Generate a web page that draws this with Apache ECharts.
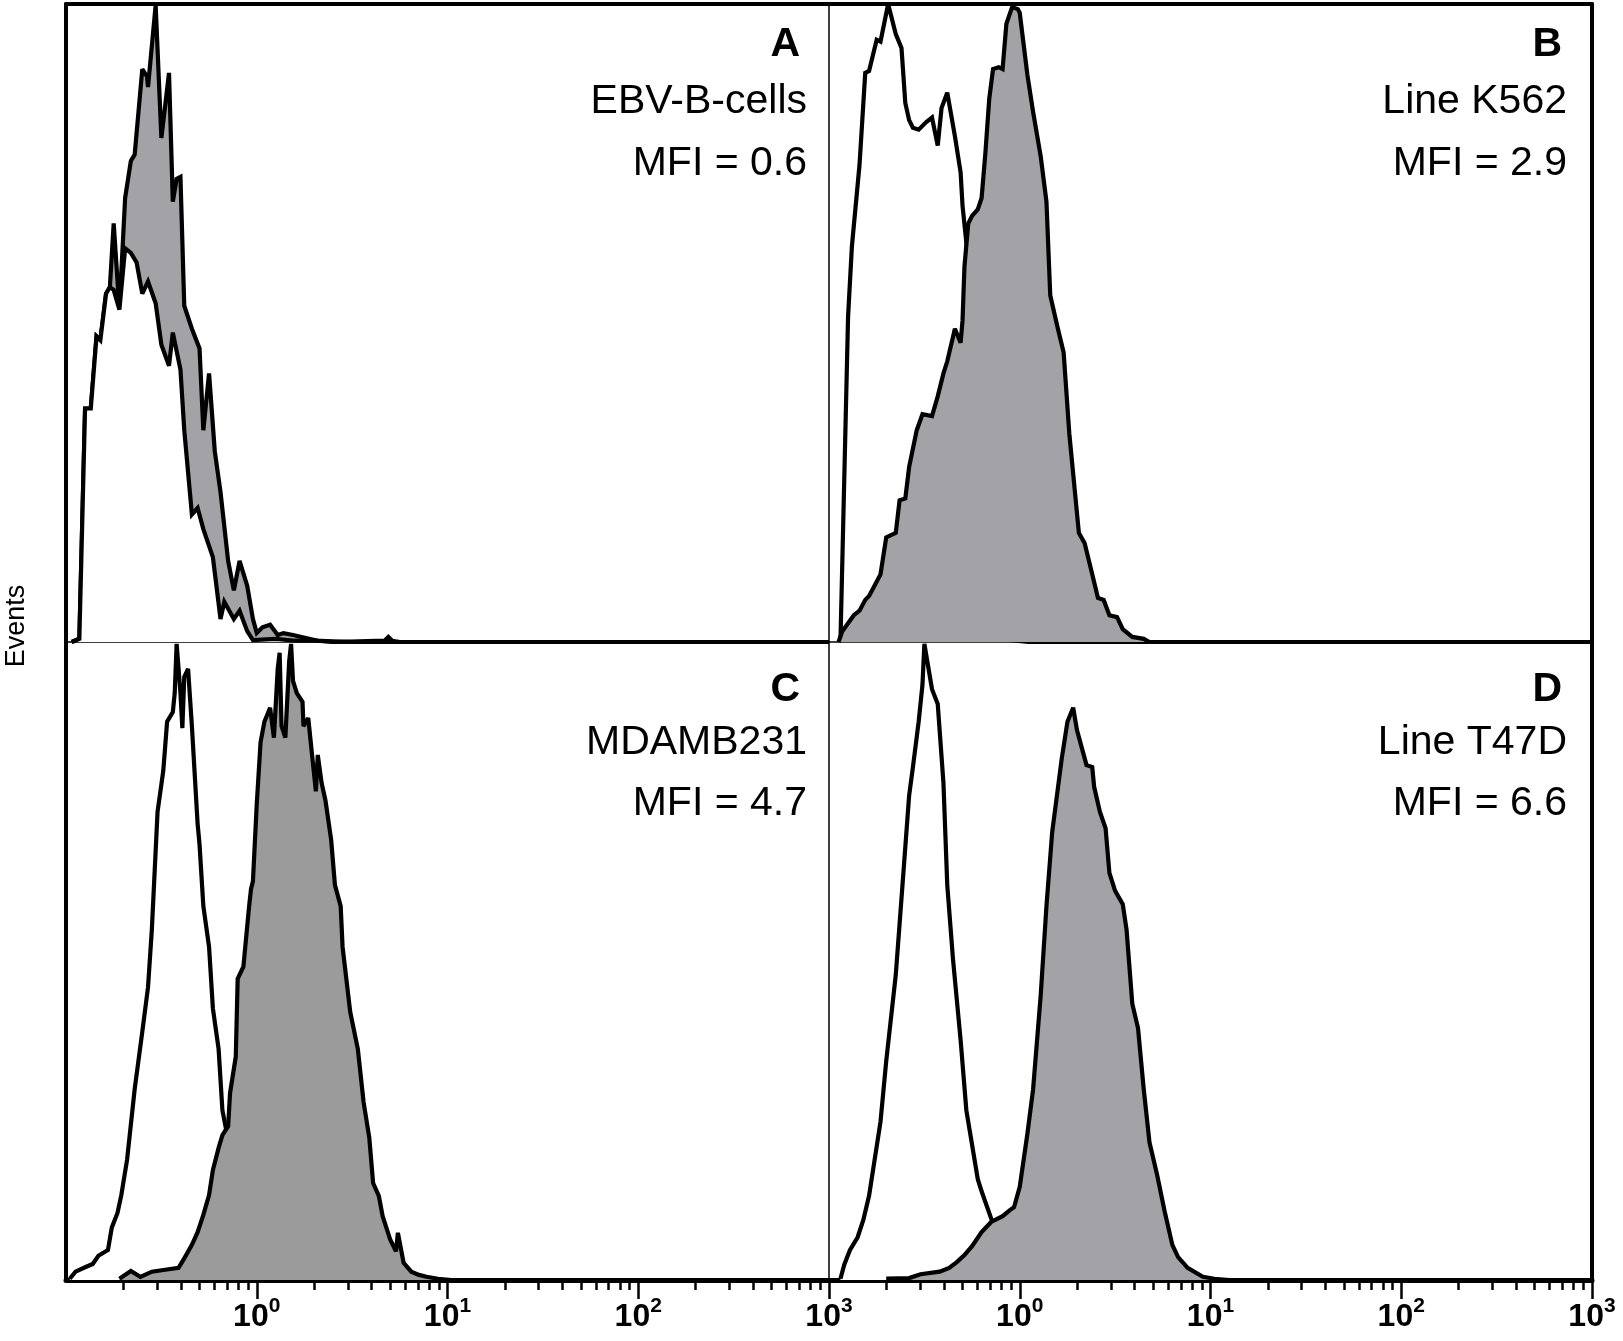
<!DOCTYPE html>
<html>
<head>
<meta charset="utf-8">
<title>Events histograms</title>
<script src="https://cdn.jsdelivr.net/npm/echarts@6.0.0/dist/echarts.min.js"></script>
<style>
  html, body { margin: 0; padding: 0; background: #fff; }
  #chart { width: 1623px; height: 1341px; }
</style>
</head>
<body>
<div id="chart"></div>
<script>
// x = log10 fluorescence, y = events (% of panel height)
const panelLetters = ['A', 'B', 'C', 'D'];
const cellLines = ['EBV-B-cells', 'Line K562', 'MDAMB231', 'Line T47D'];
const mfiValues = ['0.6', '2.9', '4.7', '6.6'];
const decadeLabels = [0, 1, 2, 3];
const minorSteps = [2, 3, 4, 5, 6, 7, 8, 9];

const openA = [[-0.97,0],[-0.93,0.5],[-0.90,36.6],[-0.87,36.6],[-0.84,47.9],[-0.82,47.3],[-0.79,54.6],[-0.77,55.6],[-0.75,55.2],[-0.72,52.1],[-0.69,61.7],[-0.66,61.0],[-0.63,59.5],[-0.60,54.6],[-0.57,56.5],[-0.53,53.1],[-0.50,46.6],[-0.46,43.3],[-0.44,48.5],[-0.40,42.7],[-0.38,33.2],[-0.34,20.0],[-0.31,21.0],[-0.28,17.7],[-0.23,13.3],[-0.19,3.6],[-0.17,6.3],[-0.12,3.6],[-0.09,4.9],[-0.05,1.7],[-0.02,0.3],[0.10,0.5],[0.20,0.2],[0.30,0.2],[0.50,0],[3,0]];
const filledA = [[-0.97,0],[-0.93,0.5],[-0.90,36.6],[-0.87,36.6],[-0.84,47.9],[-0.82,47.3],[-0.79,54.6],[-0.77,55.6],[-0.75,65.6],[-0.72,52.1],[-0.69,69.6],[-0.66,75.4],[-0.64,76.4],[-0.63,76.7],[-0.60,89.8],[-0.575,88.6],[-0.57,87.0],[-0.53,99.8],[-0.52,100],[-0.50,79.0],[-0.46,89.2],[-0.44,69.0],[-0.42,72.6],[-0.40,72.9],[-0.38,52.7],[-0.34,49.1],[-0.30,46.0],[-0.28,33.2],[-0.25,42.1],[-0.22,29.9],[-0.19,23.5],[-0.15,12.7],[-0.12,8.1],[-0.09,12.7],[-0.05,8.8],[-0.02,3.6],[0.00,1.4],[0.03,2.3],[0.07,2.7],[0.11,1.1],[0.14,1.4],[0.19,1.1],[0.32,0.2],[0.40,0],[0.67,0.2],[0.69,0.8],[0.71,0.2],[0.75,0],[3,0]];

const openB = [[-0.94,0],[-0.90,51.0],[-0.88,62.0],[-0.84,74.8],[-0.81,89.2],[-0.79,89.5],[-0.75,94.4],[-0.73,94.1],[-0.72,94.1],[-0.69,100],[-0.65,95.3],[-0.62,93.1],[-0.60,84.5],[-0.58,81.8],[-0.56,80.6],[-0.53,80.3],[-0.49,81.5],[-0.46,82.2],[-0.43,77.8],[-0.41,83.7],[-0.38,86.1],[-0.34,79.3],[-0.31,73.6],[-0.30,68.4],[-0.28,62.6],[-0.27,59.5],[-0.23,41.0],[-0.18,19.1],[-0.13,6.6],[-0.05,0.3],[0.05,0],[3,0]];
const filledB = [[-0.95,0],[-0.93,1.7],[-0.87,4.2],[-0.84,4.9],[-0.81,6.6],[-0.79,7.2],[-0.73,10.6],[-0.70,16.4],[-0.65,17.1],[-0.63,22.2],[-0.60,22.5],[-0.58,27.4],[-0.54,33.2],[-0.51,35.7],[-0.46,35.4],[-0.43,38.5],[-0.40,42.1],[-0.38,44.0],[-0.34,49.1],[-0.31,46.9],[-0.30,50.4],[-0.29,58.8],[-0.27,65.6],[-0.25,66.8],[-0.22,67.8],[-0.20,69.6],[-0.18,76.7],[-0.16,85.1],[-0.14,89.8],[-0.11,90.1],[-0.09,89.8],[-0.07,96.9],[-0.04,99.5],[-0.01,99.2],[0.00,98.6],[0.04,88.9],[0.07,83.1],[0.11,76.1],[0.14,69.0],[0.16,54.3],[0.20,49.1],[0.23,45.4],[0.26,32.6],[0.31,17.1],[0.34,15.5],[0.38,10.6],[0.41,6.9],[0.44,6.6],[0.47,4.2],[0.51,3.9],[0.54,2.0],[0.59,0.8],[0.65,0.5],[0.68,0],[3,0]];

const openC = [[-0.98,0.2],[-0.95,1.3],[-0.90,2.0],[-0.86,2.5],[-0.83,3.8],[-0.78,4.7],[-0.76,8.2],[-0.73,10.5],[-0.71,13.3],[-0.68,18.8],[-0.64,29.9],[-0.60,38.9],[-0.57,45.9],[-0.55,54.9],[-0.52,73.4],[-0.49,79.8],[-0.47,87.5],[-0.44,89.0],[-0.43,92.0],[-0.42,99.7],[-0.40,92.0],[-0.39,86.5],[-0.38,94.5],[-0.36,95.8],[-0.34,86.8],[-0.31,71.5],[-0.30,68.3],[-0.28,58.6],[-0.25,52.2],[-0.23,42.6],[-0.20,36.2],[-0.18,26.6],[-0.16,23.5],[-0.13,14.1],[-0.09,6.3],[-0.01,1.6],[0.10,0],[3,0]];
const filledC = [[-0.72,0.2],[-0.66,1.4],[-0.61,0.5],[-0.55,1.3],[-0.48,1.6],[-0.41,1.9],[-0.38,3.4],[-0.34,5.5],[-0.31,7.5],[-0.28,10.2],[-0.25,13.3],[-0.23,17.2],[-0.20,20.7],[-0.18,22.7],[-0.15,24.1],[-0.14,29.3],[-0.11,35.0],[-0.10,47.2],[-0.07,49.1],[-0.04,58.6],[-0.03,61.3],[-0.02,62.5],[0.00,74.6],[0.02,84.3],[0.04,87.5],[0.07,89.7],[0.09,85.0],[0.11,95.8],[0.12,98.3],[0.13,86.8],[0.15,85.0],[0.17,97.0],[0.18,99.7],[0.19,93.9],[0.21,92.0],[0.24,90.6],[0.245,86.8],[0.27,88.1],[0.29,82.3],[0.31,76.6],[0.32,82.3],[0.34,77.9],[0.36,75.2],[0.39,69.0],[0.41,61.9],[0.44,58.6],[0.45,52.2],[0.49,42.0],[0.53,36.2],[0.56,27.9],[0.59,22.3],[0.61,15.2],[0.64,13.2],[0.66,10.0],[0.70,6.3],[0.73,4.5],[0.74,7.4],[0.77,2.7],[0.81,1.3],[0.85,0.8],[0.89,0.5],[0.95,0.2],[1.02,0],[3,0]];

const openD = [[-0.94,0.2],[-0.92,2.4],[-0.89,4.7],[-0.85,6.7],[-0.82,9.4],[-0.79,13.2],[-0.73,24.8],[-0.70,34.3],[-0.65,47.8],[-0.61,63.8],[-0.58,75.9],[-0.56,80.4],[-0.53,87.5],[-0.51,93.3],[-0.50,99.7],[-0.46,92.6],[-0.43,90.3],[-0.40,77.9],[-0.38,61.9],[-0.35,50.3],[-0.31,37.6],[-0.28,26.6],[-0.22,15.8],[-0.20,13.9],[-0.14,8.8],[-0.10,5.5],[-0.02,1.6],[0.08,0],[3,0]];
const filledD = [[-0.70,0.2],[-0.58,0.3],[-0.52,0.9],[-0.42,1.3],[-0.37,1.9],[-0.33,2.8],[-0.29,3.9],[-0.25,5.3],[-0.20,7.5],[-0.15,9.1],[-0.09,10.0],[-0.05,11.0],[-0.03,11.4],[0.00,14.6],[0.04,22.9],[0.07,29.9],[0.11,44.7],[0.14,58.6],[0.17,70.2],[0.22,81.7],[0.25,87.5],[0.28,89.7],[0.30,86.2],[0.33,82.9],[0.35,80.7],[0.38,80.4],[0.39,77.3],[0.42,73.4],[0.45,70.8],[0.47,63.8],[0.50,61.0],[0.54,58.9],[0.56,54.9],[0.59,43.3],[0.62,39.5],[0.65,29.9],[0.68,21.6],[0.72,16.5],[0.76,10.7],[0.80,5.5],[0.83,3.6],[0.88,1.9],[0.96,0.5],[1.02,0.2],[1.10,0],[3,0]];

const openCurves = [openA, openB, openC, openD];
const filledCurves = [filledA, filledB, filledC, filledD];

// layout
const colLeft = [66, 829];
const colWidth = 763;
const rowTop = [4, 642];
const rowHeight = 638;
const fillColors = ['#a3a3a7', '#a3a3a7', '#9b9b9b', '#a3a3a7'];
const openOnTop = [true, false, false, false];
const fontText = '"Liberation Sans", Arial, sans-serif';
const fontTick = '"Liberation Sans", Arial, sans-serif';

const minorTicks = [];
[-1, 0, 1, 2].forEach(k => minorSteps.forEach(m => minorTicks.push(k + Math.log10(m))));

const grids = [], xAxes = [], yAxes = [], series = [], graphics = [];

for (let i = 0; i < 4; i++) {
  const col = i % 2, row = Math.floor(i / 2);
  grids.push({ left: colLeft[col], top: rowTop[row], width: colWidth, height: rowHeight });
}

// main x axes (data)
for (let i = 0; i < 4; i++) {
  const bottomRow = i >= 2;
  xAxes.push({
    type: 'value', gridIndex: i, min: -1, max: 3, interval: 1, position: 'bottom',
    axisLine: { show: true, onZero: false, lineStyle: { color: '#000', width: bottomRow ? 5 : 1.5 } },
    axisTick: bottomRow
      ? { show: true, customValues: decadeLabels, length: 19, lineStyle: { color: '#000', width: 2.5 } }
      : { show: false },
    axisLabel: bottomRow ? {
      show: true, customValues: decadeLabels, margin: 16,
      formatter: v => '{b|10}{s|' + v + '}',
      rich: {
        b: { fontFamily: fontTick, fontWeight: 'bold', fontSize: 32, lineHeight: 37, color: '#000', verticalAlign: 'bottom' },
        s: { fontFamily: fontTick, fontWeight: 'bold', fontSize: 21, lineHeight: 21, color: '#000', verticalAlign: 'top' }
      }
    } : { show: false },
    splitLine: { show: false }
  });
}
// top frame
for (let i = 0; i < 2; i++) {
  xAxes.push({
    type: 'value', gridIndex: i, min: -1, max: 3, interval: 1, position: 'top',
    axisLine: { show: true, onZero: false, lineStyle: { color: '#000', width: 4 } },
    axisTick: { show: false }, axisLabel: { show: false }, splitLine: { show: false }
  });
}
// minor ticks on the bottom axis
for (let i = 2; i < 4; i++) {
  xAxes.push({
    type: 'value', gridIndex: i, min: -1, max: 3, interval: 1, position: 'bottom',
    axisLine: { show: false, onZero: false },
    axisTick: { show: true, customValues: minorTicks, length: 10, lineStyle: { color: '#000', width: 2.5 } },
    axisLabel: { show: false }, splitLine: { show: false }
  });
}

for (let i = 0; i < 4; i++) {
  const leftCol = i % 2 === 0;
  yAxes.push({
    type: 'value', gridIndex: i, min: 0, max: 100, position: 'left',
    axisLine: { show: true, onZero: false, lineStyle: { color: '#000', width: leftCol ? 4 : 1.5 } },
    axisTick: { show: false }, axisLabel: { show: false }, splitLine: { show: false }
  });
}
for (let i = 1; i < 4; i += 2) {
  yAxes.push({
    type: 'value', gridIndex: i, min: 0, max: 100, position: 'right',
    axisLine: { show: true, onZero: false, lineStyle: { color: '#000', width: 4 } },
    axisTick: { show: false }, axisLabel: { show: false }, splitLine: { show: false }
  });
}

function curve(data, i, fill, z) {
  return {
    type: 'line', xAxisIndex: i, yAxisIndex: i, data: data,
    symbol: 'none', showSymbol: false, z: z, silent: true,
    lineStyle: { color: '#000', width: 4.2, join: 'miter', miterLimit: 3 },
    areaStyle: { color: fill, opacity: 1 }
  };
}

for (let i = 0; i < 4; i++) {
  const top = openOnTop[i];
  series.push(curve(filledCurves[i], i, fillColors[i], top ? 3 : 4));
  series.push(curve(openCurves[i], i, '#ffffff', top ? 4 : 3));
}

// panel texts
const textRight = [807, 1567];
const letterRight = [800, 1562];
const rowTextY = [[45, 102, 164], [690, 743, 804]];
for (let i = 0; i < 4; i++) {
  const col = i % 2, row = Math.floor(i / 2);
  graphics.push({
    type: 'text', x: letterRight[col], y: rowTextY[row][0],
    style: { text: panelLetters[i], font: 'bold 41px ' + fontText, fill: '#000', align: 'right', verticalAlign: 'middle' }
  });
  graphics.push({
    type: 'text', x: textRight[col], y: rowTextY[row][1],
    style: { text: cellLines[i], font: '41px ' + fontText, fill: '#000', align: 'right', verticalAlign: 'middle' }
  });
  graphics.push({
    type: 'text', x: textRight[col], y: rowTextY[row][2],
    style: { text: 'MFI = ' + mfiValues[i], font: '41px ' + fontText, fill: '#000', align: 'right', verticalAlign: 'middle' }
  });
}
graphics.push({
  type: 'text', x: 17, y: 626, rotation: Math.PI / 2,
  style: { text: 'Events', font: '27px ' + fontText, fill: '#000', align: 'center', verticalAlign: 'middle' }
});

const chart = echarts.init(document.getElementById('chart'), null, { renderer: 'canvas' });
chart.setOption({
  animation: false,
  backgroundColor: '#fff',
  grid: grids,
  xAxis: xAxes,
  yAxis: yAxes,
  series: series,
  graphic: graphics
});
</script>
</body>
</html>
